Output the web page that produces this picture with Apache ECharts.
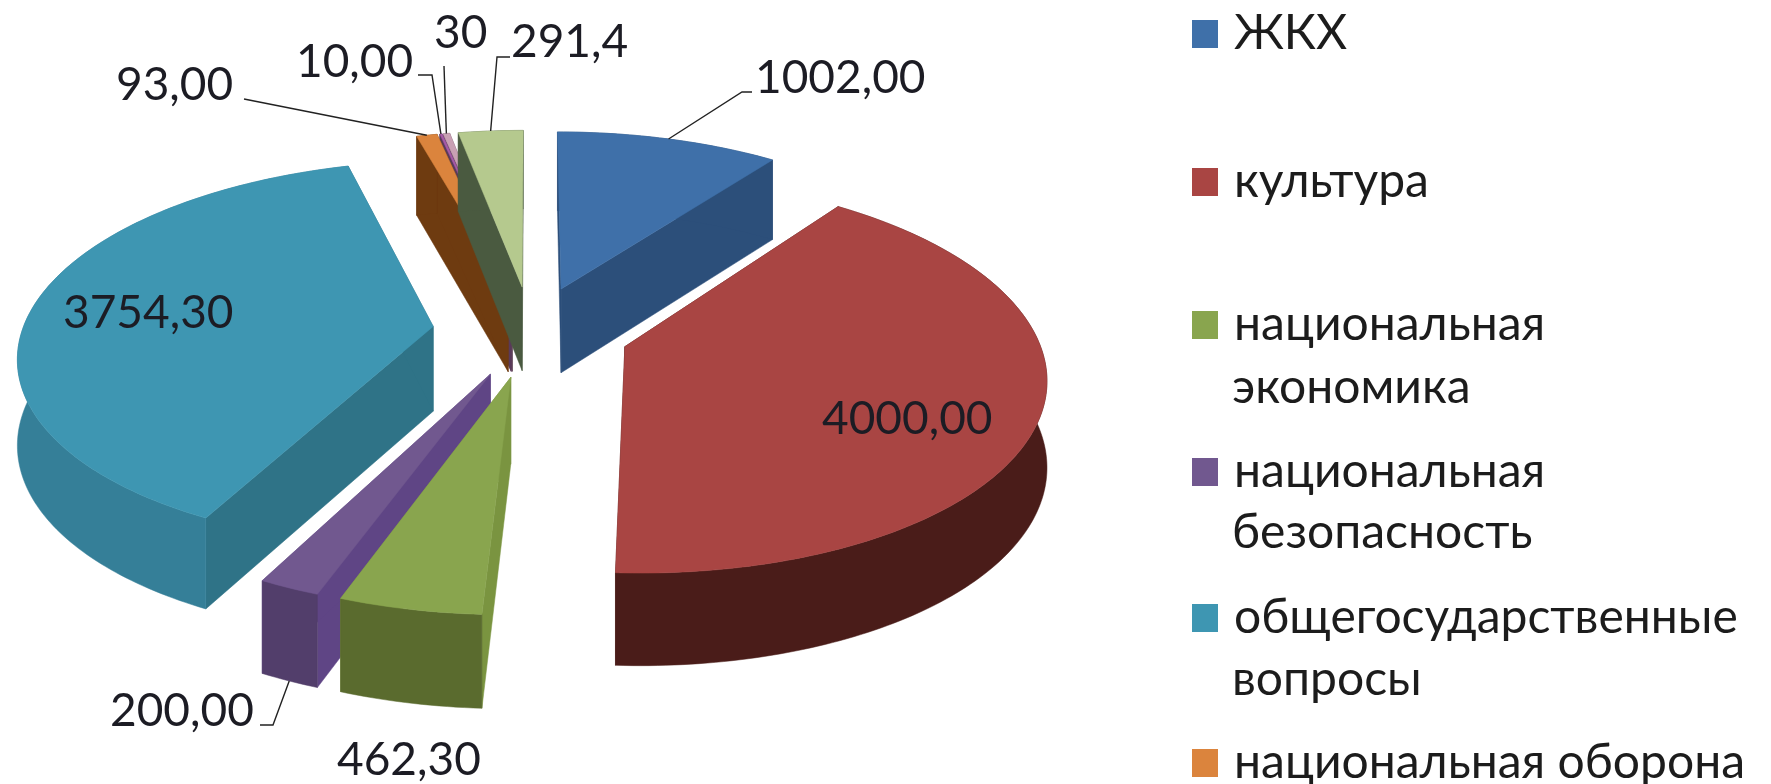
<!DOCTYPE html>
<html><head><meta charset="utf-8">
<style>html,body{margin:0;padding:0;background:#fff}#c{width:1771px;height:784px}</style>
<script src="https://cdn.jsdelivr.net/npm/echarts@6/dist/echarts.min.js"></script>
</head><body><div id="c"></div>
<script>
const categories = ['ЖКХ','культура','национальная экономика','национальная безопасность','общегосударственные вопросы','национальная оборона','прочее 10','прочее 30','прочее 291'];
const values = [1002,4000,462.3,200,3754.3,93,10,30,291.4];
const valueLabels = ['1002,00','4000,00','462,30','200,00','3754,30','93,00','10,00','30','291,4'];
const legendFirstLines = ['ЖКХ','культура','национальная','национальная','общегосударственные','национальная оборона'];
const legendSecondLines = ['','','экономика','безопасность','вопросы',''];

const FONT = 'Lato, "Noto Sans", sans-serif', FS = 46, LEGEND_FS = 48;
const topColors  = ['#3F70A9','#A94543','#89A54E','#71588F','#3E96B2','#DB843D','#A65AA8','#C9A0B4','#B5C98E'];
const wallColors = ['#2C4F7A','#4A1C19','#5A6B2E','#523E6B','#357F98','#6E3B10','#5A3A5A','#6A5060','#4A5A40'];
const faceColors = ['#2C4F7A','#4A1C19','#7A9440','#5F4585','#2F7387','#6E3B10','#5A3A5A','#6A5060','#4A5A40'];
const paintOrder = [7,6,5,8,0,4,3,2,1];
// label placement: [x, y] text anchor (left, middle), leader elbow points
const labelLayout = [
  {x:755,y:78,line:[[742,92],[752,92]]},
  {x:822,y:419},
  {x:337,y:760},
  {x:110,y:711,fromWall:true,line:[[273,725],[260,725]]},
  {x:63,y:313},
  {x:116,y:85,line:[[244,99]]},
  {x:296,y:62,line:[[432,75],[418,75]]},
  {x:434,y:33,line:[[444,66]]},
  {x:511,y:42,line:[[497,57],[510,57]]}
];
const legendTops = [19,167,310,457,603,748];
const legendTopShift = 9;
const legendSecondOffset = 52;
const legendSecondTops = [0,0,364,509,656,0];

// perspective pie
const CX=531, CY=331, RX=411, RY=190, K=0.14, DEPTH=85, EXPLODE=0.24;
const total = values.reduce((a,b)=>a+b,0);
const starts = []; values.reduce((a,v,i)=>(starts[i]=a, a+v),0);
function proj(u,v,h){
  const s=1/(1-K*v);
  return [CX+RX*u*s, CY+RY*v*s+h*DEPTH*(0.5+0.5*s)];
}
function sliceItem(i){
  const a0=starts[i]/total*2*Math.PI, a1=(starts[i]+values[i])/total*2*Math.PI, mid=(a0+a1)/2;
  const ou=EXPLODE*Math.sin(mid), ov=-EXPLODE*Math.cos(mid);
  const P=(a,r,h)=>proj(ou+r*Math.sin(a), ov-r*Math.cos(a), h);
  const n=Math.max(2,Math.ceil((a1-a0)/(Math.PI/180)));
  const topArc=[],botArc=[];
  for(let j=0;j<=n;j++){const a=a0+(a1-a0)*j/n; topArc.push(P(a,1,0)); botArc.push(P(a,1,1));}
  const apexT=P(a0,0,0), apexB=P(a0,0,1);
  const poly=(points,fill)=>({type:'polygon',shape:{points},style:{fill,stroke:fill,lineWidth:0.5}});
  const children=[
    poly([apexT,topArc[0],botArc[0],apexB],faceColors[i]),
    poly([apexT,topArc[n],botArc[n],apexB],faceColors[i]),
    poly(topArc.concat(botArc.slice().reverse()),wallColors[i]),
    poly([apexT].concat(topArc),topColors[i])
  ];
  const L=labelLayout[i];
  if(L.line){
    children.push({type:'polyline',shape:{points:[P(mid,1,L.fromWall?1:0)].concat(L.line)},style:{fill:null,stroke:'#222',lineWidth:1.4},z2:50});
  }
  children.push({type:'text',x:L.x,y:L.y,style:{text:valueLabels[i],x:0,y:0,fill:'#1c1c24',font:FS+'px '+FONT,textAlign:'left',textVerticalAlign:'middle'},z2:60});
  return {type:'group',children};
}
const series = paintOrder.map((i,order)=>({
  type:'custom',
  name:categories[i],
  coordinateSystem:'none',
  z:2+order,
  silent:true,
  animation:false,
  itemStyle:{color:topColors[i]},
  data:[[values[i]]],
  renderItem:()=>sliceItem(i)
}));
const legend = legendFirstLines.map((t,i)=>({
  show:true, left:1192, top:legendTops[i]-legendTopShift, orient:'vertical',
  padding:0, itemWidth:26, itemHeight:28, itemGap:0, icon:'rect', selectedMode:false,
  data:[categories[i]],
  formatter:()=>t,
  textStyle:{fontFamily:FONT,fontSize:LEGEND_FS,color:'#1c1c1c',padding:[0,0,0,11],lineHeight:28}
}));
const graphic = legendSecondLines.map((t,i)=>t?{
  type:'text',left:1232,top:legendSecondTops[i],silent:true,
  style:{text:t,font:LEGEND_FS+'px '+FONT,fill:'#1c1c1c'}
}:null).filter(Boolean);
echarts.init(document.getElementById('c'),null,{renderer:'canvas'}).setOption({
  backgroundColor:'#fff',animation:false,legend,graphic,series
});
</script></body></html>
